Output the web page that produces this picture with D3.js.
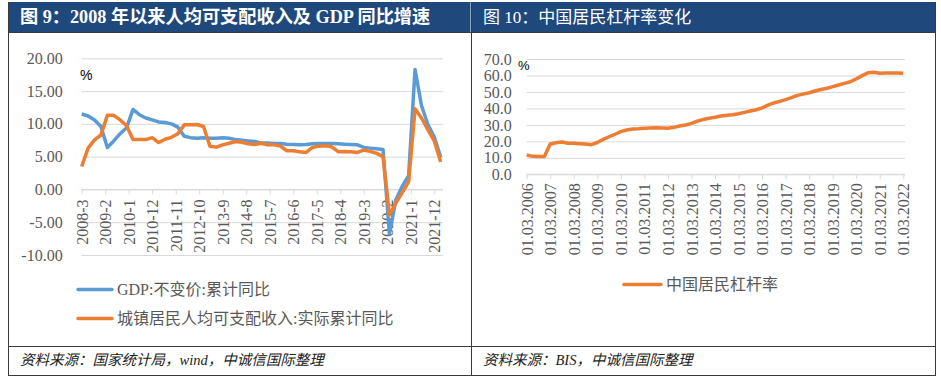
<!DOCTYPE html>
<html><head><meta charset="utf-8">
<script src="https://cdn.jsdelivr.net/npm/d3@7"></script>
<style>body{margin:0;background:#fff} svg{display:block}</style>
</head><body><svg id="c" width="941" height="378"></svg>
<script>
// ---------- DATA ----------
const leftTitle = "图 9：2008 年以来人均可支配收入及 GDP 同比增速";
const rightTitle = "图 10：中国居民杠杆率变化";
const leftSource = "资料来源：国家统计局，wind，中诚信国际整理";
const rightSource = "资料来源：BIS，中诚信国际整理";

const quarterDates = [
 "2008-3","2008-6","2008-9","2008-12","2009-3","2009-6","2009-9","2009-12",
 "2010-3","2010-6","2010-9","2010-12","2011-3","2011-6","2011-9","2011-12",
 "2012-3","2012-6","2012-9","2012-12","2013-3","2013-6","2013-9","2013-12",
 "2014-3","2014-6","2014-9","2014-12","2015-3","2015-6","2015-9","2015-12",
 "2016-3","2016-6","2016-9","2016-12","2017-3","2017-6","2017-9","2017-12",
 "2018-3","2018-6","2018-9","2018-12","2019-3","2019-6","2019-9","2019-12",
 "2020-3","2020-6","2020-9","2020-12","2021-3","2021-6","2021-9","2021-12",
 "2022-3"];
const gdpName = "GDP:不变价:累计同比";
const gdpValues = [
 11.5,11.2,10.6,9.6, 6.4,7.4,8.5,9.4, 12.2,11.4,10.9,10.6, 10.3,10.2,10.0,9.5,
 8.1,7.9,7.8,7.9, 7.8,7.8,7.9,7.8, 7.6,7.5,7.4,7.3, 7.1,7.1,7.0,7.0,
 6.9,6.85,6.8,6.85, 6.95,7.0,7.0,7.0, 6.95,6.9,6.85,6.8, 6.4,6.3,6.2,6.1,
 -6.8,-1.6,0.5,2.1, 18.3,12.8,9.9,8.0, 4.9];
const incomeName = "城镇居民人均可支配收入:实际累计同比";
const incomeValues = [
 3.5,6.3,7.55,8.3, 11.3,11.3,10.6,9.7, 7.6,7.6,7.6,7.9, 7.15,7.65,7.95,8.5,
 9.85,9.85,9.9,9.6, 6.6,6.45,6.8,7.05, 7.3,7.2,6.95,6.85, 7.05,6.8,6.8,6.6,
 5.9,5.9,5.75,5.65, 6.4,6.6,6.65,6.5, 5.75,5.8,5.75,5.65, 6.0,5.8,5.5,5.0,
 -3.9,-2.1,-0.5,1.2, 12.3,10.9,9.1,7.4, 4.2];
const leftXTickLabels = ["2008-3","2009-2","2010-1","2010-12","2011-11","2012-10","2013-9","2014-8",
 "2015-7","2016-6","2017-5","2018-4","2019-3","2020-2","2021-1","2021-12"];
const leftYTicks = [20,15,10,5,0,-5,-10];

const debtQuarters = [
 "2006Q1","2006Q2","2006Q3","2006Q4","2007Q1","2007Q2","2007Q3","2007Q4",
 "2008Q1","2008Q2","2008Q3","2008Q4","2009Q1","2009Q2","2009Q3","2009Q4",
 "2010Q1","2010Q2","2010Q3","2010Q4","2011Q1","2011Q2","2011Q3","2011Q4",
 "2012Q1","2012Q2","2012Q3","2012Q4","2013Q1","2013Q2","2013Q3","2013Q4",
 "2014Q1","2014Q2","2014Q3","2014Q4","2015Q1","2015Q2","2015Q3","2015Q4",
 "2016Q1","2016Q2","2016Q3","2016Q4","2017Q1","2017Q2","2017Q3","2017Q4",
 "2018Q1","2018Q2","2018Q3","2018Q4","2019Q1","2019Q2","2019Q3","2019Q4",
 "2020Q1","2020Q2","2020Q3","2020Q4","2021Q1","2021Q2","2021Q3","2021Q4",
 "2022Q1"];
const debtName = "中国居民杠杆率";
const debtValues = [
 11.7,10.9,10.8,10.8, 18.4,19.2,19.6,18.9, 18.8,18.6,18.4,18.0, 19.3,21.2,22.8,24.3,
 25.9,26.9,27.5,27.7, 28.0,28.1,28.2,28.1, 28.0,28.5,29.3,29.9, 30.9,32.3,33.3,34.0,
 34.6,35.4,35.8,36.2, 36.8,37.6,38.4,39.2, 40.3,42.0,43.3,44.3, 45.3,46.5,47.9,48.7,
 49.5,50.6,51.5,52.2, 53.2,54.2,55.2,56.2, 57.9,59.9,61.6,61.9, 61.4,61.5,61.5,61.5,
 61.3];
const rightXTickLabels = ["01.03.2006","01.03.2007","01.03.2008","01.03.2009","01.03.2010","01.03.2011",
 "01.03.2012","01.03.2013","01.03.2014","01.03.2015","01.03.2016","01.03.2017","01.03.2018",
 "01.03.2019","01.03.2020","01.03.2021","01.03.2022"];
const rightYTicks = [0,10,20,30,40,50,60,70];

// ---------- STYLE ----------
const BLUE = "#5B9BD5", ORANGE = "#ED7D31", GRID = "#D9D9D9", LBL = "#595959";
const SERIF = "'Liberation Serif','Times New Roman','Noto Sans CJK SC',serif";
const CJK = "'Liberation Serif','Noto Sans CJK SC',sans-serif";

const svg = d3.select("#c");
svg.append("rect").attr("width",941).attr("height",378).attr("fill","#fff");

// frames & title bars
svg.append("rect").attr("x",8.5).attr("y",2).attr("width",462).attr("height",30).attr("fill","#1F497D");
svg.append("rect").attr("x",471.5).attr("y",2).attr("width",463.5).attr("height",30).attr("fill","#1F497D");
const frame = svg.append("g").attr("stroke","#3a3a3a").attr("stroke-width",1).attr("fill","none");
frame.append("line").attr("x1",8.5).attr("x2",935.5).attr("y1",32.5).attr("y2",32.5);
frame.append("line").attr("x1",8.5).attr("x2",8.5).attr("y1",2).attr("y2",376);
frame.append("line").attr("x1",471.5).attr("x2",471.5).attr("y1",2).attr("y2",376);
frame.append("line").attr("x1",935.5).attr("x2",935.5).attr("y1",2).attr("y2",376);
frame.append("line").attr("x1",8.5).attr("x2",935.5).attr("y1",346.5).attr("y2",346.5);
frame.append("line").attr("x1",8.5).attr("x2",935.5).attr("y1",375.5).attr("y2",375.5);

svg.append("text").attr("x",20).attr("y",23).attr("fill","#fff").attr("font-family",CJK)
  .attr("font-size",18.2).attr("font-weight","bold").text(leftTitle);
svg.append("text").attr("x",483).attr("y",23).attr("fill","#fff").attr("font-family",CJK)
  .attr("font-size",17).attr("font-weight","normal").text(rightTitle);

svg.append("text").attr("x",20).attr("y",365).attr("fill","#222").attr("font-family",CJK)
  .attr("font-size",14.5).attr("font-style","italic").text(leftSource);
svg.append("text").attr("x",483).attr("y",365).attr("fill","#222").attr("font-family",CJK)
  .attr("font-size",14.5).attr("font-style","italic").text(rightSource);

// ---------- LEFT CHART ----------
const mi = s => { const [yy,mm] = s.split("-").map(Number); return yy*12 + mm - 1; };
const xL = d3.scaleLinear().domain([mi("2008-3"), mi("2022-3")]).range([81.7, 440.7]);
const yL = d3.scaleLinear().domain([-10,20]).range([255,58.3]);
const gL = svg.append("g");
const gridRight = 443;

gL.append("g").attr("transform",`translate(${xL.range()[0]},0)`)
  .call(d3.axisLeft(yL).tickValues(leftYTicks).tickSize(-(gridRight - xL.range()[0])).tickFormat(""))
  .call(g => g.select(".domain").remove())
  .call(g => g.selectAll("line").attr("stroke",GRID));
gL.append("g").attr("transform",`translate(${xL.range()[0]},0)`)
  .call(d3.axisLeft(yL).tickValues(leftYTicks).tickSize(0).tickPadding(19).tickFormat(d => d.toFixed(2)))
  .call(g => g.select(".domain").remove())
  .call(g => g.selectAll("text").attr("font-family",SERIF).attr("font-size",16).attr("fill",LBL));

const axL = gL.append("g").attr("transform",`translate(0,${yL(0)})`)
  .call(d3.axisBottom(xL).tickValues(leftXTickLabels.map(mi)).tickSize(5).tickSizeOuter(0)
        .tickFormat((d,i) => leftXTickLabels[i]));
axL.select(".domain").remove();
axL.append("line").attr("x1",xL.range()[0]).attr("x2",gridRight).attr("stroke",GRID);
axL.selectAll("line").attr("stroke",GRID);
axL.selectAll("text").attr("transform","rotate(-90)").attr("x",-10).attr("y",0).attr("dy","0.35em")
  .attr("text-anchor","end").attr("font-family",SERIF).attr("font-size",16).attr("fill",LBL);

gL.append("text").attr("x",80).attr("y",80).attr("font-family","'Liberation Sans',Arial,sans-serif")
  .attr("font-size",14).attr("fill","#000").text("%");

const lineL = vals => d3.line().x((d,i) => xL(mi(quarterDates[i]))).y(d => yL(d))(vals);
gL.append("path").attr("d",lineL(gdpValues)).attr("fill","none").attr("stroke",BLUE)
  .attr("stroke-width",3.5).attr("stroke-linejoin","round");
gL.append("path").attr("d",lineL(incomeValues)).attr("fill","none").attr("stroke",ORANGE)
  .attr("stroke-width",3.5).attr("stroke-linejoin","round");

// left legend
const legL = [{name:gdpName,c:BLUE,y:289.5},{name:incomeName,c:ORANGE,y:318.5}];
legL.forEach(l => {
  gL.append("line").attr("x1",78).attr("x2",112).attr("y1",l.y).attr("y2",l.y)
    .attr("stroke",l.c).attr("stroke-width",3.5).attr("stroke-linecap","round");
  gL.append("text").attr("x",117).attr("y",l.y).attr("dy","0.35em").attr("font-family",CJK)
    .attr("font-size",16).attr("fill",LBL).text(l.name);
});

// ---------- RIGHT CHART ----------
const xR = d3.scaleLinear().domain([0, debtQuarters.length-1]).range([526.7, 903.3]);
const yR = d3.scaleLinear().domain([0,70]).range([174.3,59]);
const gR = svg.append("g");
const gridRightR = 905;
gR.append("g").attr("transform",`translate(${xR.range()[0]},0)`)
  .call(d3.axisLeft(yR).tickValues(rightYTicks).tickSize(-(gridRightR - xR.range()[0])).tickFormat(""))
  .call(g => g.select(".domain").remove())
  .call(g => g.selectAll("line").attr("stroke",GRID));
gR.append("g").attr("transform",`translate(${xR.range()[0]},0)`)
  .call(d3.axisLeft(yR).tickValues(rightYTicks).tickSize(0).tickPadding(15).tickFormat(d => d.toFixed(1)))
  .call(g => g.select(".domain").remove())
  .call(g => g.selectAll("text").attr("font-family",SERIF).attr("font-size",16).attr("fill",LBL));
const rightTickIdx = rightXTickLabels.map(s => debtQuarters.indexOf(s.slice(6) + "Q1"));
const axR = gR.append("g").attr("transform",`translate(0,${yR(0)})`)
  .call(d3.axisBottom(xR).tickValues(rightTickIdx).tickSize(5).tickSizeOuter(0)
        .tickFormat((d,i) => rightXTickLabels[i]));
axR.select(".domain").remove();
axR.append("line").attr("x1",xR.range()[0]).attr("x2",gridRightR).attr("stroke",GRID);
axR.selectAll("line").attr("stroke",GRID);
axR.selectAll("text").attr("transform","rotate(-90)").attr("x",-9).attr("y",0).attr("dy","0.35em")
  .attr("text-anchor","end").attr("font-family",SERIF).attr("font-size",16).attr("fill",LBL);

gR.append("text").attr("x",518).attr("y",70).attr("font-family","'Liberation Sans',Arial,sans-serif")
  .attr("font-size",13).attr("fill","#000").text("%");

gR.append("path").attr("d", d3.line().x((d,i) => xR(i)).y(d => yR(d))(debtValues))
  .attr("fill","none").attr("stroke",ORANGE).attr("stroke-width",3.5).attr("stroke-linejoin","round");

gR.append("line").attr("x1",624).attr("x2",661).attr("y1",284.5).attr("y2",284.5)
  .attr("stroke",ORANGE).attr("stroke-width",3.5).attr("stroke-linecap","round");
gR.append("text").attr("x",666).attr("y",284.5).attr("dy","0.35em").attr("font-family",CJK)
  .attr("font-size",16).attr("fill",LBL).text(debtName);
</script></body></html>
